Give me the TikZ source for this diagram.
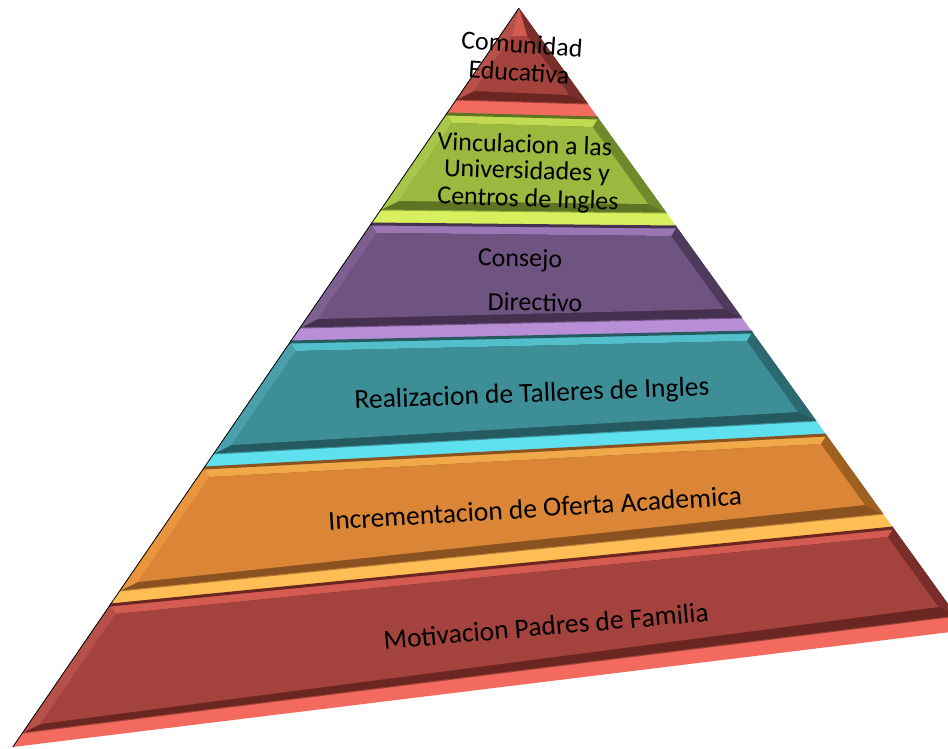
\documentclass[tikz,border=0pt]{standalone}
\usepackage{fontspec}
\setmainfont{Carlito}
\usetikzlibrary{calc}
\definecolor{aF}{HTML}{A4433D}\definecolor{aL}{HTML}{F26B5E}\definecolor{aD}{HTML}{6B2621}\definecolor{aB}{HTML}{B5504A}\definecolor{aR}{HTML}{7A2E29}
\definecolor{bF}{HTML}{9BB83F}\definecolor{bL}{HTML}{D8F05E}\definecolor{bD}{HTML}{5E7424}\definecolor{bB}{HTML}{A8C64A}\definecolor{bR}{HTML}{6E8A2A}
\definecolor{cF}{HTML}{6F5380}\definecolor{cL}{HTML}{B88ED6}\definecolor{cD}{HTML}{45304F}\definecolor{cB}{HTML}{7E6090}\definecolor{cR}{HTML}{4E3A5C}
\definecolor{dF}{HTML}{3E8E98}\definecolor{dL}{HTML}{5FE0EE}\definecolor{dD}{HTML}{255A60}\definecolor{dB}{HTML}{4AA0AA}\definecolor{dR}{HTML}{2C6970}
\definecolor{eF}{HTML}{DA8636}\definecolor{eL}{HTML}{FFBE55}\definecolor{eD}{HTML}{8A5220}\definecolor{eB}{HTML}{E8953E}\definecolor{eR}{HTML}{A06020}
\newcommand\pyrlayer[6]{%
 \pgfmathsetmacro\pa{#1}\pgfmathsetmacro\pb{#2}\pgfmathsetmacro\pc{#3}\pgfmathsetmacro\pd{#4}%
 \pgfmathsetmacro\lipL{#3-14}\pgfmathsetmacro\lipR{#4-14}%
 \pgfmathsetmacro\iTL{#1+#6}\pgfmathsetmacro\iTR{#2+#6}%
 \pgfmathsetmacro\iBL{\lipL-9}\pgfmathsetmacro\iBR{\lipR-9}%
 \coordinate (TL) at ({lx(\pa)},\pa);
 \coordinate (TR) at ({rx(\pb)},\pb);
 \coordinate (BL) at ({lx(\pc)},\pc);
 \coordinate (BR) at ({rx(\pd)},\pd);
 \coordinate (LL) at ({lx(\lipL)},\lipL);
 \coordinate (LR) at ({rx(\lipR)},\lipR);
 \coordinate (ITL) at ({lx(\iTL)+12},\iTL);
 \coordinate (ITR) at ({rx(\iTR)-12},\iTR);
 \coordinate (IBL) at ({lx(\iBL)+12},\iBL);
 \coordinate (IBR) at ({rx(\iBR)-12},\iBR);
 \fill[#5D] (TL)--(TR)--(LR)--(LL)--cycle;
 \fill[#5B] (TL)--(ITL)--(IBL)--(LL)--cycle;
 \fill[#5R] (TR)--(ITR)--(IBR)--(LR)--cycle;
 \fill[#5L!60!#5F] (TL)--(TR)--(ITR)--(ITL)--cycle;
 \fill[#5F] (ITL)--(ITR)--(IBR)--(IBL)--cycle;
 \fill[#5L] (LL)--(LR)--(BR)--(BL)--cycle;
 \draw[#5D,line width=3pt] (TL)--(TR);
 \draw[#5D!60!#5L,line width=1pt] (LL)--(LR);
}
\begin{document}
\begin{tikzpicture}[x=1pt,y=-1pt,
  declare function={lx(\y)=519-0.685*(\y-8); rx(\y)=519+0.72*(\y-8);},
  lbl/.style={font=\fontsize{27.5}{29}\selectfont,text=black,inner sep=0pt},
  slbl/.style={font=\fontsize{26}{27}\selectfont,text=black,inner sep=0pt}]
\useasboundingbox (0,0) rectangle (948,748);
\clip (0,0) rectangle (948,748);
\pyrlayer{8}{8}{114}{118}{a}{28}
\pyrlayer{114}{118}{224}{227}{b}{9}
\pyrlayer{224}{227}{342}{332}{c}{9}
\pyrlayer{342}{332}{468}{435}{d}{9}
\pyrlayer{468}{435}{605}{528}{e}{9}
\pyrlayer{605}{528}{747}{630}{a}{9}
\draw[black,line width=0.8pt] ({lx(8)},8) -- ({lx(747)},747);
\node[slbl,rotate=-4] (t1a) at (522,44) {Comunidad};
\node[slbl,rotate=-4] (t1b) at (519,72) {Educativa};
\node[slbl,rotate=-2] (t2a) at (525,144) {Vinculacion a las};
\node[slbl,rotate=-2] (t2b) at (527,172) {Universidades y};
\node[slbl,rotate=-2] (t2c) at (528,200) {Centros de Ingles};
\node[slbl,rotate=-1] (t3a) at (520,260) {Consejo};
\node[slbl,rotate=-1] (t3b) at (535,302) {Directivo};
\node[lbl,rotate=2.2] (t4) at (532,395) {Realizacion de Talleres de Ingles};
\node[lbl,rotate=3.5] (t5) at (535,508) {Incrementacion de Oferta Academica};
\node[lbl,rotate=5] (t6) at (546,626) {Motivacion Padres de Familia};
\end{tikzpicture}
\end{document}
